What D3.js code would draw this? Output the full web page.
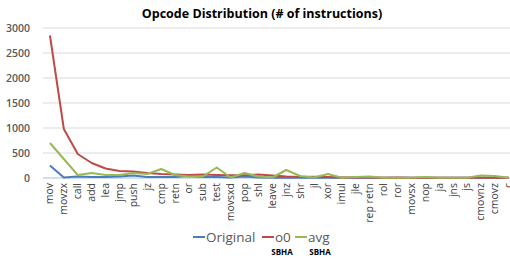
<!DOCTYPE html>
<html>
<head>
<meta charset="utf-8">
<script src="https://cdn.jsdelivr.net/npm/d3@7"></script>
<style>
  body { margin: 0; background: #fff; }
  svg { display: block; font-family: "Open Sans", sans-serif; }
</style>
</head>
<body>
<div id="chart"></div>
<script>
const opcodes = ["mov", "movzx", "call", "add", "lea", "jmp", "push", "jz", "cmp", "retn",
  "or", "sub", "test", "movsxd", "pop", "shl", "leave", "jnz", "shr", "jl", "xor", "imul",
  "jle", "rep retn", "rol", "ror", "movsx", "nop", "ja", "jns", "js", "cmovnz", "cmovz", "c"]

const original = [250, 10, 30, 20, 20, 30, 50, 20, 20, 20, 40, 20, 20, 10, 30, 10, 5,
  5, 5, 5, 5, 5, 5, 5, 5, 5, 5, 5, 5, 5, 5, 5, 5, 5]
const o0 = [2850, 980, 480, 300, 190, 140, 130, 100, 80, 70, 60, 70, 60, 55, 55, 70, 50,
  30, 20, 25, 20, 10, 10, 10, 5, 10, 5, 5, 5, 5, 5, 5, 5, 5]
const avg = [700, 380, 60, 100, 60, 60, 100, 80, 180, 60, 30, 30, 210, 10, 100, 30, 10,
  160, 40, 10, 80, 5, 20, 30, 5, 5, 5, 20, 5, 5, 5, 50, 40, 5]

const yTicks = [0, 500, 1000, 1500, 2000, 2500, 3000]

const series = [
  { name: "Original", values: original, color: "#4a7ebb" },
  { name: "o0", values: o0, color: "#be4b48" },
  { name: "avg", values: avg, color: "#98b954" }
]

const width = 510
const height = 259
const left = 43
const step = 13.9

const svg = d3.select("#chart")
    .append("svg")
    .attr("width", width)
    .attr("height", height)

const x = d3.scalePoint()
    .domain(opcodes)
    .range([left + step / 2, left + step / 2 + step * (opcodes.length - 1)])

const y = d3.scaleLinear()
    .domain([0, 3000])
    .range([178, 28])

// gridlines
svg.append("g")
    .selectAll("line")
    .data(yTicks.slice(1))
    .join("line")
    .attr("x1", left)
    .attr("x2", width)
    .attr("y1", d => y(d))
    .attr("y2", d => y(d))
    .attr("stroke", "#d9d9d9")
    .attr("stroke-width", 1)

// y labels
svg.append("g")
    .selectAll("text")
    .data(yTicks)
    .join("text")
    .attr("x", 30)
    .attr("y", d => y(d))
    .attr("dy", "0.35em")
    .attr("text-anchor", "end")
    .attr("font-size", "10.5px")
    .attr("font-weight", 600)
    .attr("fill", "#595959")
    .text(d => d)

// x axis line
svg.append("line")
    .attr("x1", left)
    .attr("x2", width)
    .attr("y1", y(0))
    .attr("y2", y(0))
    .attr("stroke", "#a6bfdc")
    .attr("stroke-width", 1)

// x labels
svg.append("g")
    .selectAll("text")
    .data(opcodes)
    .join("text")
    .attr("transform", d => `translate(${x(d) + 3.5},${y(0) + 5}) rotate(-90)`)
    .attr("text-anchor", "end")
    .attr("font-size", "10.5px")
    .attr("fill", "#404040")
    .text(d => d)

const line = d3.line()
    .x((d, i) => x(opcodes[i]))
    .y(d => y(d))

svg.append("g")
    .selectAll("path")
    .data(series)
    .join("path")
    .attr("d", d => line(d.values))
    .attr("fill", "none")
    .attr("stroke", d => d.color)
    .attr("stroke-width", 2)
    .attr("stroke-linejoin", "round")

// title
svg.append("text")
    .attr("x", 262)
    .attr("y", 18)
    .attr("text-anchor", "middle")
    .attr("font-size", "12.5px")
    .attr("font-weight", 700)
    .attr("fill", "#000")
    .text("Opcode Distribution (# of instructions)")

// legend
const legendX = [193, 262, 295]
const legend = svg.append("g")
    .selectAll("g")
    .data(series)
    .join("g")
    .attr("transform", (d, i) => `translate(${legendX[i]},237)`)

legend.append("line")
    .attr("x1", 0)
    .attr("x2", 12)
    .attr("stroke", d => d.color)
    .attr("stroke-width", 2)

legend.append("text")
    .attr("x", 13)
    .attr("dy", "0.35em")
    .attr("font-size", "13.5px")
    .attr("fill", "#595959")
    .text(d => d.name)

// sub labels under o0 and avg
svg.append("g")
    .selectAll("text")
    .data([legendX[1] + 20, legendX[2] + 25])
    .join("text")
    .attr("x", d => d)
    .attr("y", 255)
    .attr("text-anchor", "middle")
    .attr("font-size", "8px")
    .attr("font-weight", 700)
    .attr("fill", "#000")
    .text("SBHA")
</script>
</body>
</html>
